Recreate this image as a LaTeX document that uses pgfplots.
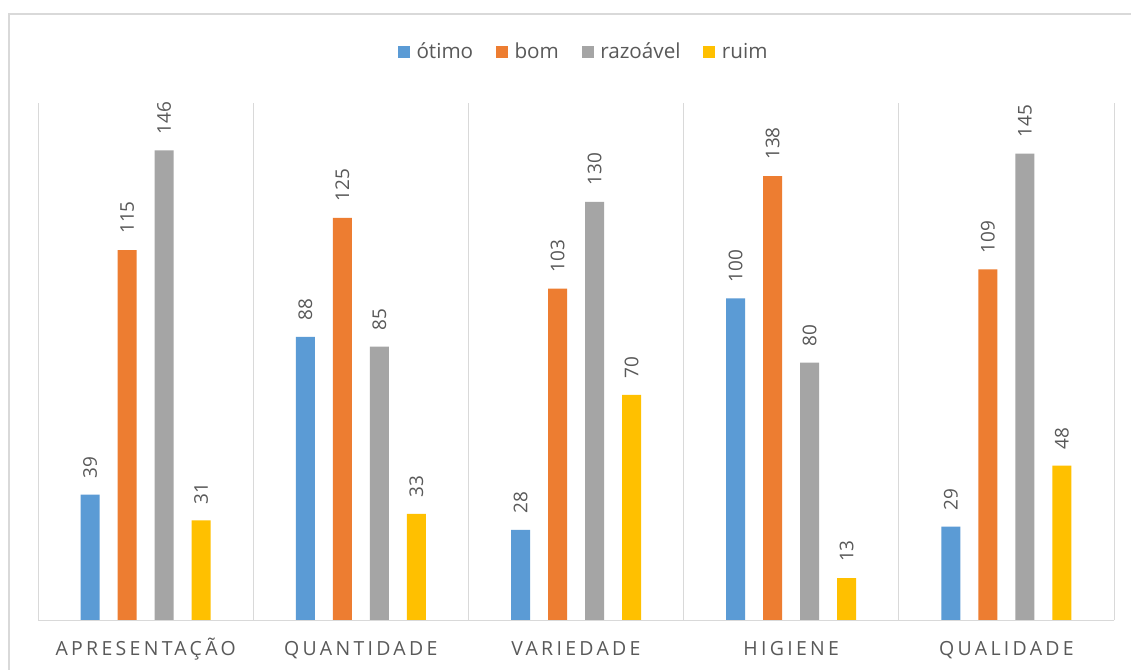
\documentclass[border=0pt]{standalone}
\usepackage{fontspec}
\setmainfont{Open Sans}
\newfontfamily\catfont[LetterSpace=17]{Open Sans}
\usepackage{pgfplots}
\pgfplotsset{compat=1.18}
\definecolor{cblue}{HTML}{5B9BD5}
\definecolor{corange}{HTML}{ED7D31}
\definecolor{cgray}{HTML}{A5A5A5}
\definecolor{cyellow}{HTML}{FFC000}
\definecolor{ctext}{HTML}{595959}
\definecolor{cgrid}{HTML}{D9D9D9}
\begin{document}
\begin{tikzpicture}
\path[use as bounding box] (0,0) rectangle (848.25pt,501.75pt);
\fill[white] (0,0) rectangle (848.25pt,501.75pt);
\draw[cgrid, line width=1.5pt] (6.75pt,-10pt) rectangle (870pt,491.25pt);
\begin{axis}[
  at={(28.5pt,36.75pt)}, anchor=south west,
  scale only axis, width=807pt, height=387.75pt,
  xmin=-0.5, xmax=4.5, ymin=0, ymax=160.7,
  ybar=13.5pt, bar width=14.25pt,
  axis line style={draw=none},
  ytick=\empty,
  xtick={0,1,2,3,4},
  xticklabels={APRESENTAÇÃO,QUANTIDADE,VARIEDADE,HIGIENE,QUALIDADE},
  major tick length=0pt,
  xticklabel style={font=\catfont\fontsize{14.6}{17}\selectfont, text=ctext, anchor=base, inner sep=0pt, yshift=-26.25pt},
  extra x ticks={-0.5,0.5,1.5,2.5,3.5,4.5},
  extra x tick labels={},
  extra x tick style={grid=major, major grid style={cgrid, line width=0.75pt}},
  /pgf/number format/assume math mode=true,
  nodes near coords,
  every node near coord/.append style={rotate=90, anchor=west, inner xsep=12pt, inner ysep=0pt, font=\fontsize{14.2}{16}\selectfont, text=ctext},
  legend columns=4,
  legend style={draw=none, at={(0.5,1.0986)}, anchor=center, xshift=6pt, font=\fontsize{15.5}{18}\selectfont, text=ctext,
    /tikz/every odd column/.append style={column sep=3pt},
    /tikz/every even column/.append style={column sep=15pt}},
  legend image code/.code={\fill[#1] (0pt,-4.5pt) rectangle (9pt,4.5pt);},
  clip=false,
]
\addplot[fill=cblue, draw=none] coordinates {(0,39) (1,88) (2,28) (3,100) (4,29)};
\addplot[fill=corange, draw=none] coordinates {(0,115) (1,125) (2,103) (3,138) (4,109)};
\addplot[fill=cgray, draw=none] coordinates {(0,146) (1,85) (2,130) (3,80) (4,145)};
\addplot[fill=cyellow, draw=none] coordinates {(0,31) (1,33) (2,70) (3,13) (4,48)};
\legend{ótimo,bom,razoável,ruim}
\draw[cgrid, line width=0.75pt] (axis cs:-0.5,0) -- (axis cs:4.5,0);
\end{axis}
\end{tikzpicture}
\end{document}
